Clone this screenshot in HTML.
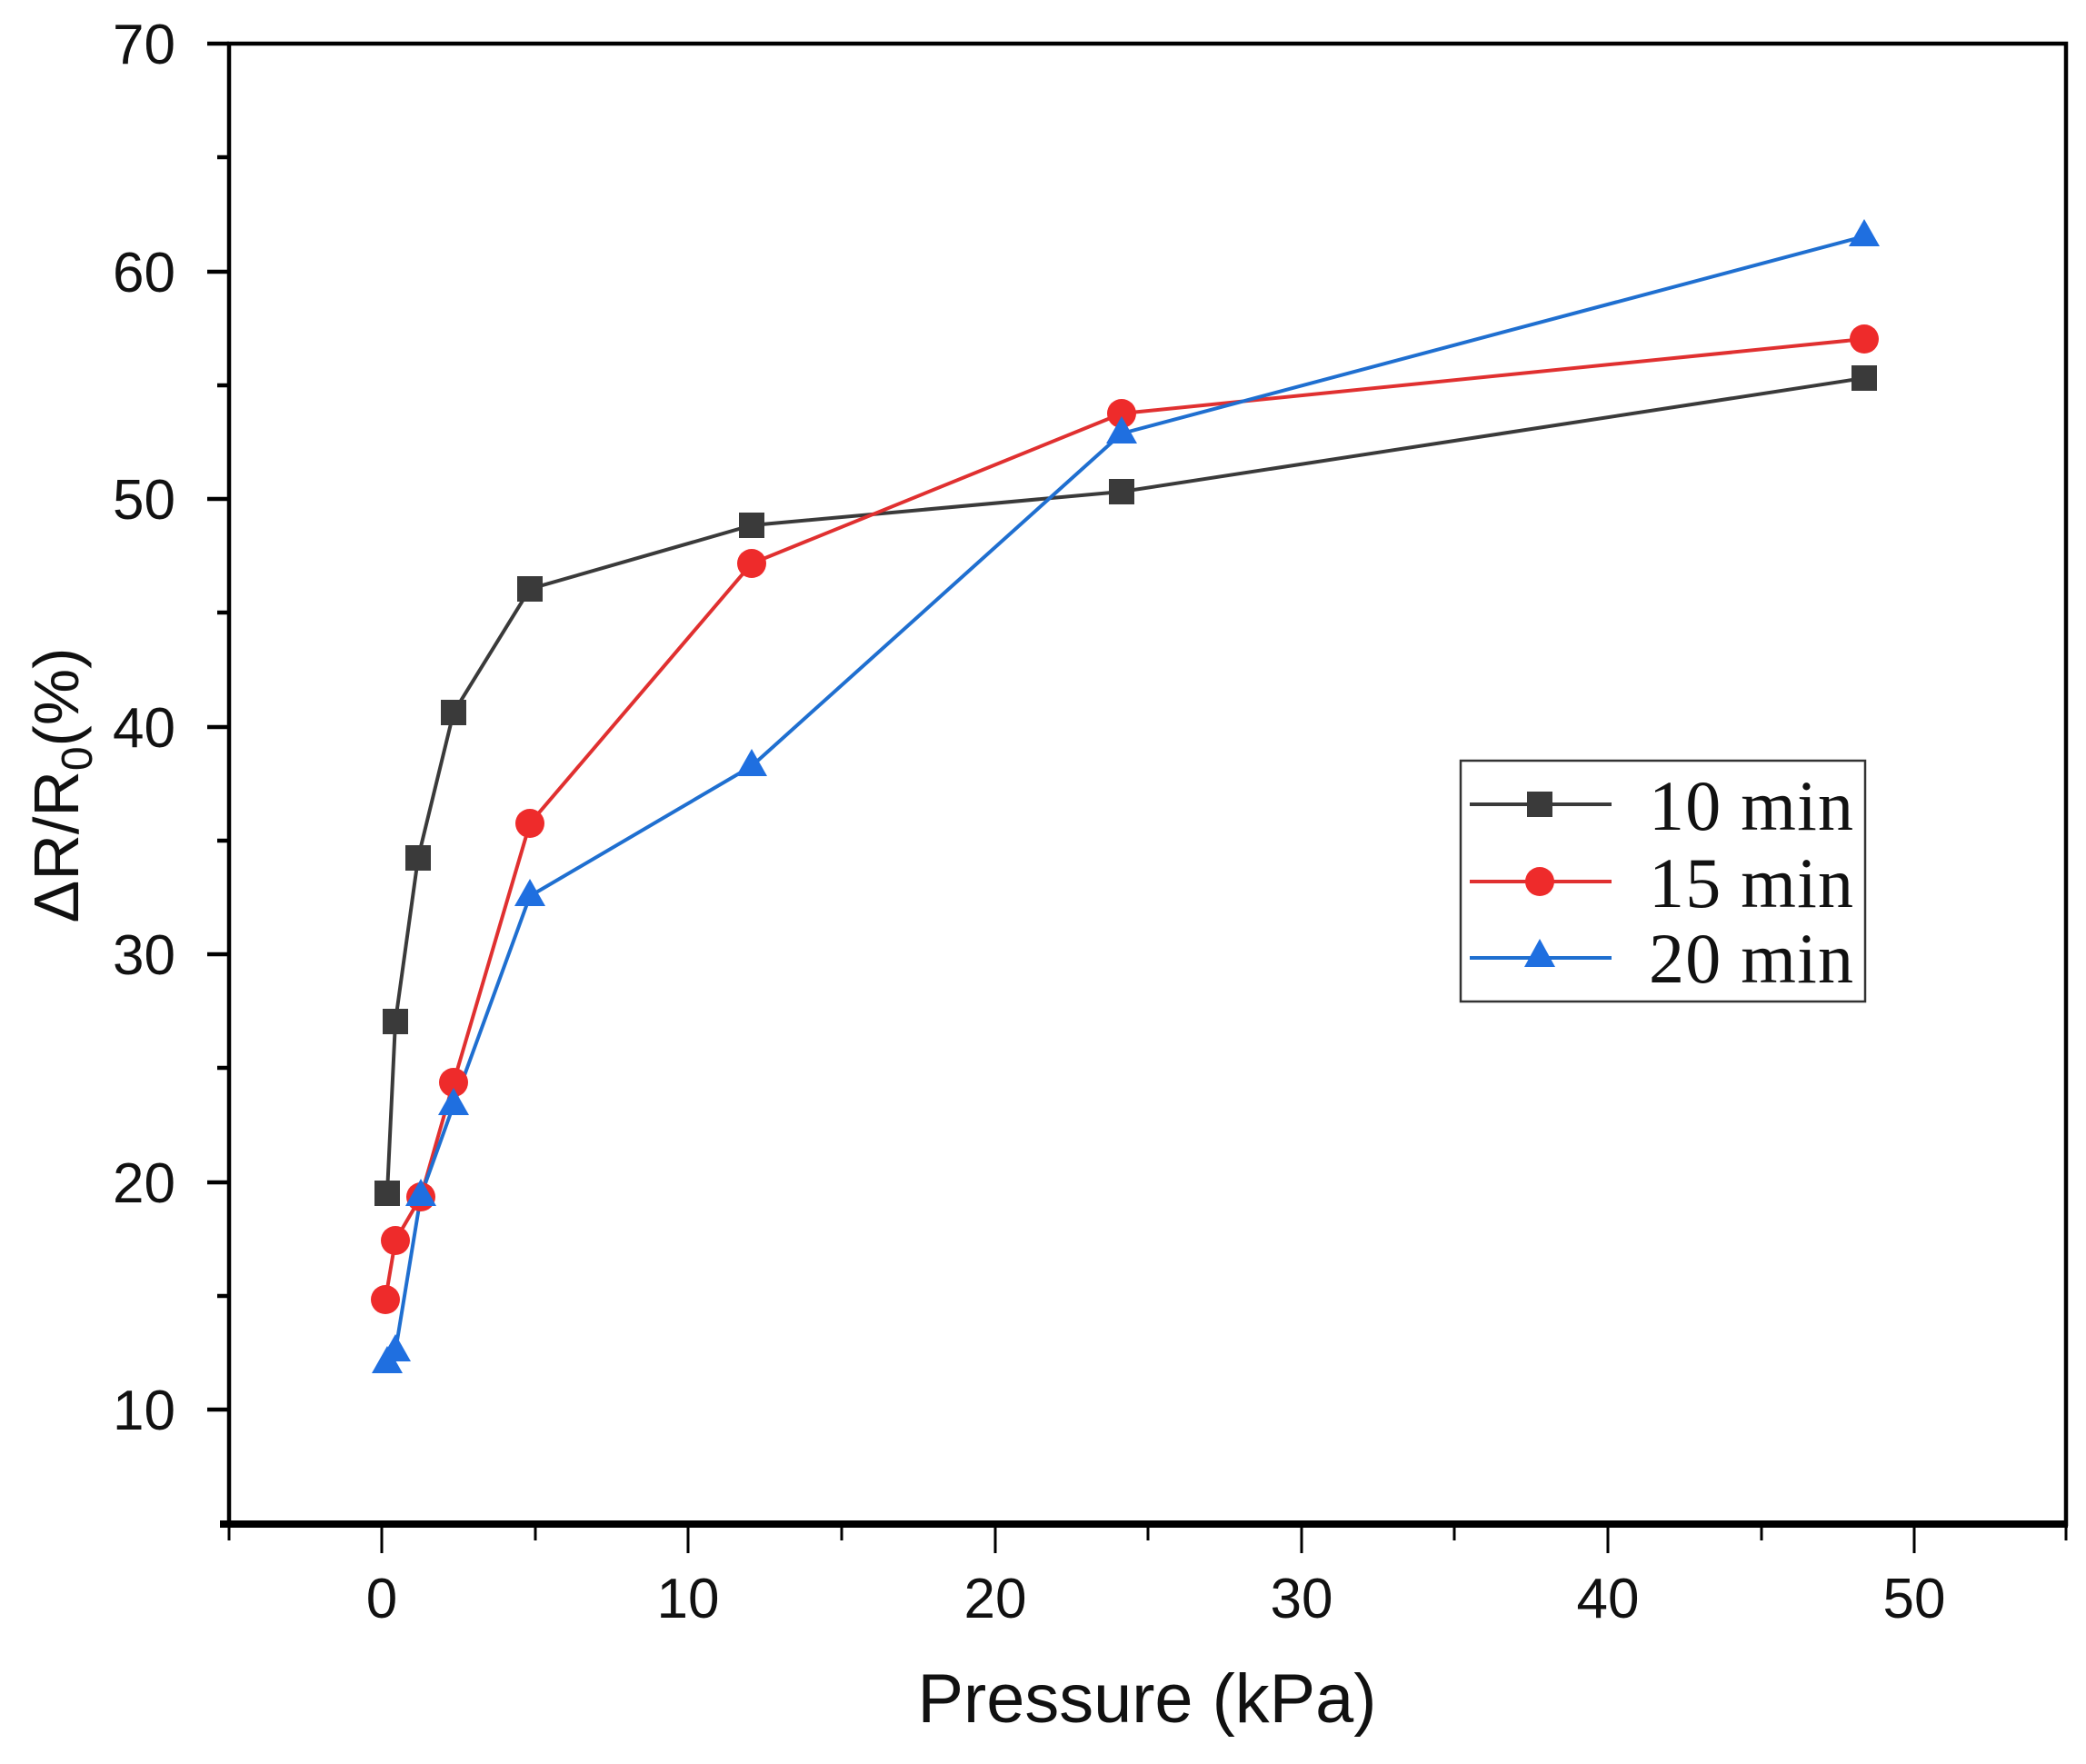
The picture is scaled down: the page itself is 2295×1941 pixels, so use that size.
<!DOCTYPE html>
<html><head><meta charset="utf-8"><style>html,body{margin:0;padding:0;background:#fff}</style></head>
<body>
<svg width="2295" height="1936" viewBox="0 0 2295 1936" xmlns="http://www.w3.org/2000/svg" font-family="Liberation Sans, sans-serif">
<rect width="2295" height="1936" fill="#fff"/>
<rect x="252" y="48" width="2021" height="1629" fill="none" stroke="#000" stroke-width="4.5"/>
<line x1="242" y1="1677" x2="2275" y2="1677" stroke="#000" stroke-width="8"/>
<g stroke="#000" stroke-width="4.5">
<line x1="228" y1="48" x2="252" y2="48"/>
<line x1="228" y1="299" x2="252" y2="299"/>
<line x1="228" y1="549" x2="252" y2="549"/>
<line x1="228" y1="800" x2="252" y2="800"/>
<line x1="228" y1="1050" x2="252" y2="1050"/>
<line x1="228" y1="1301" x2="252" y2="1301"/>
<line x1="228" y1="1551" x2="252" y2="1551"/>
<line x1="239" y1="173" x2="252" y2="173"/>
<line x1="239" y1="424" x2="252" y2="424"/>
<line x1="239" y1="674" x2="252" y2="674"/>
<line x1="239" y1="925" x2="252" y2="925"/>
<line x1="239" y1="1175" x2="252" y2="1175"/>
<line x1="239" y1="1426" x2="252" y2="1426"/>
</g>
<g stroke="#000" stroke-width="3">
<line x1="420" y1="1677" x2="420" y2="1709"/>
<line x1="757" y1="1677" x2="757" y2="1709"/>
<line x1="1095" y1="1677" x2="1095" y2="1709"/>
<line x1="1432" y1="1677" x2="1432" y2="1709"/>
<line x1="1769" y1="1677" x2="1769" y2="1709"/>
<line x1="2106" y1="1677" x2="2106" y2="1709"/>
<line x1="252" y1="1677" x2="252" y2="1695"/>
<line x1="589" y1="1677" x2="589" y2="1695"/>
<line x1="926" y1="1677" x2="926" y2="1695"/>
<line x1="1263" y1="1677" x2="1263" y2="1695"/>
<line x1="1600" y1="1677" x2="1600" y2="1695"/>
<line x1="1938" y1="1677" x2="1938" y2="1695"/>
<line x1="2273" y1="1677" x2="2273" y2="1695"/>
</g>
<g font-size="62" text-anchor="end" fill="#111">
<text x="193" y="70">70</text>
<text x="193" y="321">60</text>
<text x="193" y="571">50</text>
<text x="193" y="822">40</text>
<text x="193" y="1072">30</text>
<text x="193" y="1323">20</text>
<text x="193" y="1573">10</text>
</g>
<g font-size="62" text-anchor="middle" fill="#111">
<text x="420" y="1780">0</text>
<text x="757" y="1780">10</text>
<text x="1095" y="1780">20</text>
<text x="1432" y="1780">30</text>
<text x="1769" y="1780">40</text>
<text x="2106" y="1780">50</text>
</g>
<text x="1262" y="1895" font-size="76" text-anchor="middle" fill="#111" textLength="505" lengthAdjust="spacingAndGlyphs">Pressure (kPa)</text>
<text transform="translate(86,864) rotate(-90)" font-size="70" text-anchor="middle" fill="#111">ΔR/R<tspan font-size="48" dy="15">0</tspan><tspan dy="-15">(%)</tspan></text>
<polyline fill="none" stroke="#3a3a3a" stroke-width="4" points="426,1313 435,1124 460,944 499,784 583,648 827,578 1234,541 2051,416"/>
<polyline fill="none" stroke="#e03030" stroke-width="4" points="424,1430 435,1365 463,1317 499,1191 583,906 827,620 1234,455 2051,373"/>
<polyline fill="none" stroke="#1f6fd0" stroke-width="4" points="426,1500 435,1487 463,1316 499,1216 583,986 827,843 1234,477 2051,260"/>
<g fill="#3a3a3a">
<rect x="412" y="1299" width="28" height="28"/><rect x="421" y="1110" width="28" height="28"/><rect x="446" y="930" width="28" height="28"/><rect x="485" y="770" width="28" height="28"/><rect x="569" y="634" width="28" height="28"/><rect x="813" y="564" width="28" height="28"/><rect x="1220" y="527" width="28" height="28"/><rect x="2037" y="402" width="28" height="28"/>
</g>
<g fill="#ee2b2b">
<circle cx="424" cy="1430" r="16"/><circle cx="435" cy="1365" r="16"/><circle cx="463" cy="1317" r="16"/><circle cx="499" cy="1191" r="16"/><circle cx="583" cy="906" r="16"/><circle cx="827" cy="620" r="16"/><circle cx="1234" cy="455" r="16"/><circle cx="2051" cy="373" r="16"/>
</g>
<g fill="#1f6fe0">
<polygon points="426,1481 443,1511 409,1511"/><polygon points="435,1468 452,1498 418,1498"/><polygon points="463,1297 480,1327 446,1327"/><polygon points="499,1197 516,1227 482,1227"/><polygon points="583,967 600,997 566,997"/><polygon points="827,824 844,854 810,854"/><polygon points="1234,458 1251,488 1217,488"/><polygon points="2051,241 2068,271 2034,271"/>
</g>
<rect x="1607" y="837" width="445" height="265" fill="#fff" stroke="#333" stroke-width="2.5"/>
<line x1="1617" y1="885" x2="1773" y2="885" stroke="#3a3a3a" stroke-width="4"/>
<rect x="1680" y="871" width="28" height="28" fill="#3a3a3a"/>
<line x1="1617" y1="970" x2="1773" y2="970" stroke="#e03030" stroke-width="4"/>
<circle cx="1694" cy="970" r="16" fill="#ee2b2b"/>
<line x1="1617" y1="1054" x2="1773" y2="1054" stroke="#1f6fd0" stroke-width="4"/>
<polygon points="1694,1033 1711,1064 1677,1064" fill="#1f6fe0"/>
<g font-family="Liberation Serif, serif" font-size="78" fill="#111">
<text x="1814" y="913" textLength="225" lengthAdjust="spacing">10 min</text>
<text x="1814" y="998" textLength="225" lengthAdjust="spacing">15 min</text>
<text x="1814" y="1081" textLength="225" lengthAdjust="spacing">20 min</text>
</g>
</svg>
</body></html>
